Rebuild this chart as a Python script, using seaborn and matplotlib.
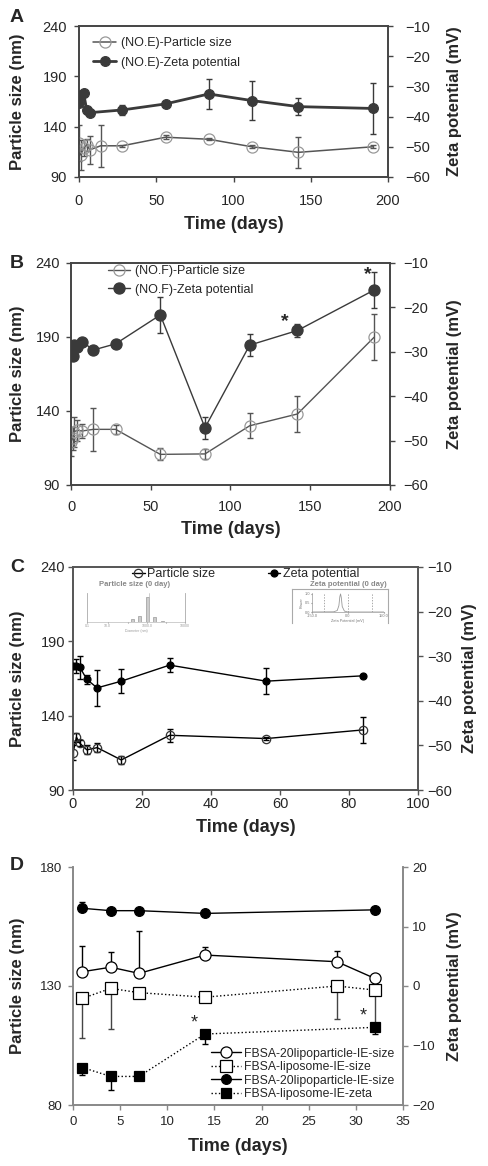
import numpy as np
import matplotlib
matplotlib.use("Agg")
import matplotlib.pyplot as plt
import seaborn as sns

# ---- panel A: (NO.E) ----
a_size_days = [0, 1, 3, 5, 7, 14, 28, 56, 84, 112, 142, 190]
a_size = [123.5, 112, 118.5, 122, 117, 121, 121, 129.5, 127.5, 120, 114.5, 120]
a_size_err = [18, 15, 8, 6, 13.6, 21, 1, 2, 1, 1.5, 15.5, 1.5]
a_zeta_days = [0, 1, 3, 5, 7, 28, 56, 84, 112, 142, 190]
a_zeta = [-35.6, -32.8, -32.3, -37.8, -38.7, -37.8, -35.8, -32.5, -34.7, -36.7, -37.3]
a_zeta_err = [0, 0, 0, 0, 0, 1.8, 0, 5, 6.4, 2.8, 8.5]

# ---- panel B: (NO.F) ----
b_days = [0, 1, 2, 4, 7, 14, 28, 56, 84, 112, 142, 190]
b_size = [119.3, 121.5, 126, 127, 126.5, 127.6, 127.6, 110.7, 111, 130, 138, 189.8]
b_size_err = [10, 8, 10, 7, 5, 14.6, 3, 4, 3.5, 8.4, 12, 15.6]
b_zeta = [-29.6, -30.9, -28.5, -29, -27.7, -29.6, -28.2, -21.7, -47.1, -28.5, -25.2, -16.1]
b_zeta_err = [0, 0, 0, 0, 0.6, 0, 0, 4, 2.5, 2.5, 1.5, 4]

# ---- panel C ----
c_days = [0, 1, 2, 4, 7, 14, 28, 56, 84]
c_size = [115.1, 125.5, 121.4, 117, 118.5, 110.2, 126.8, 124.6, 130.4]
c_size_err = [5, 3, 2, 3, 3, 3, 4.5, 1, 8.5]
c_zeta = [-32.2, -32.2, -32.5, -35.2, -37.1, -35.6, -32.0, -35.6, -34.4]
c_zeta_err = [0, 1.5, 2.6, 1, 4, 2.7, 1.5, 2.9, 0]

# inset data (0 day distributions)
inset_size_bins = [60, 80, 100, 120, 140]
inset_size_counts = [0.1, 0.25, 1.0, 0.2, 0.05]
inset_zeta_x = [-150, -60, -45, -38, -34, -31, -28, -24, -15, 0, 150]
inset_zeta_y = [0, 0.01, 0.08, 0.35, 0.85, 1.0, 0.8, 0.3, 0.05, 0.0, 0]

# ---- panel D ----
d_days = [1, 4, 7, 14, 28, 32]
d_lipo_size = [136, 137.9, 135.3, 143, 140.2, 133.2]
d_lipo_size_err = [10.8, 6.2, 17.8, 3.2, 4.6, 1.5]
d_lipos_size = [124.8, 129, 127.2, 125.3, 130, 128.3]
d_lipos_size_err = [16.5, 17, 1.5, 1, 14, 15.4]
d_zeta_days = [1, 4, 7, 14, 32]
d_lipo_zeta = [13.06, 12.66, 12.66, 12.2, 12.8]
d_lipo_zeta_err = [1.0, 0, 0, 0, 0]
d_lipos_zeta = [-13.7, -15.2, -15.2, -8.07, -6.95]
d_lipos_zeta_err = [1.3, 2.2, 0, 1.7, 1.1]

sns.set_style("ticks")
plt.rcParams['font.family'] = ['Liberation Sans', 'DejaVu Sans']

W, H = 489, 1166
fig = plt.figure(figsize=(W / 100, H / 100), dpi=100)


def box(l, r, t, b):
    return [l / W, 1 - b / H, (r - l) / W, (b - t) / H]


def series(ax, x, y, err, color, marker, ms, mfc, mec, lw, ls='-', ecolor=None,
           up_only=False, down_only=False, label=None):
    sns.lineplot(x=x, y=y, ax=ax, color=color, marker=marker, markersize=ms,
                 markerfacecolor=mfc, markeredgecolor=mec, markeredgewidth=0.9,
                 linewidth=lw, linestyle=ls, label=label, sort=False, zorder=3)
    e = np.array(err, dtype=float)
    z = np.zeros_like(e)
    yerr = [z, e] if up_only else ([e, z] if down_only else e)
    ax.errorbar(x, y, yerr=yerr, fmt='none', ecolor=ecolor or color,
                elinewidth=1, capsize=2.5, capthick=1, zorder=2)


def style_axes(ax, ax2, pos, xlim, ylim, y2lim, xt, yt, y2t, spine_col, tick_fs,
               pads, lab_px):
    l, r, t, b = pos
    ax.set_xlim(*xlim)
    ax.set_ylim(*ylim)
    ax2.set_ylim(*y2lim)
    ax.set_xticks(xt)
    ax.set_yticks(yt)
    ax2.set_yticks(y2t)
    for a in (ax, ax2):
        for s in a.spines.values():
            s.set_color(spine_col)
            s.set_linewidth(1.2)
        a.tick_params(direction='out', length=3.6, width=1, color=spine_col,
                      labelsize=tick_fs)
    ax.tick_params(axis='x', pad=pads[0])
    ax.tick_params(axis='y', pad=pads[1])
    ax2.tick_params(axis='y', pad=pads[2])
    ax.set_xlabel('Time (days)', fontsize=13, fontweight='bold')
    ax.set_ylabel('Particle size (nm)', fontsize=12, fontweight='bold')
    ax2.set_ylabel('Zeta potential (mV)', fontsize=12, fontweight='bold')
    # label positions given in figure pixels (centres)
    xl_y, yl_x, yr_x = lab_px
    ax.xaxis.set_label_coords(0.5, (b - (xl_y - 9)) / (b - t))
    ax.yaxis.set_label_coords((yl_x + 8 - l) / (r - l), 0.5)
    ax2.yaxis.set_label_coords((yr_x - 8 - l) / (r - l), 0.5)


def merged_legend(ax, ax2, **kw):
    h1, l1 = ax.get_legend_handles_labels()
    h2, l2 = ax2.get_legend_handles_labels()
    for a in (ax, ax2):
        if a.get_legend() is not None:
            a.get_legend().remove()
    ax2.legend(h1 + h2, l1 + l2, frameon=False, **kw)


# ================= A =================
posA = (79, 388, 26, 177)
axA = fig.add_axes(box(*posA))
axA2 = axA.twinx()
series(axA, a_size_days, a_size, a_size_err, '#555555', 'o', 8, 'none', '#999999', 1.1,
       ecolor='#555555', label='(NO.E)-Particle size')
series(axA2, a_zeta_days, a_zeta, a_zeta_err, '#3a3a3a', 'o', 7, '#3a3a3a', '#3a3a3a', 2.0,
       label='(NO.E)-Zeta potential')
style_axes(axA, axA2, posA, (0, 200), (90, 240), (-60, -10), range(0, 201, 50),
           [90, 140, 190, 240], range(-60, -9, 10), '#444444', 10.5,
           (8.6, 5.0, 8.6), (225, 17, 455))
merged_legend(axA, axA2, loc='upper left', bbox_to_anchor=(0.01, 1.0), fontsize=9,
              handlelength=1.8, handletextpad=0.4, labelspacing=0.6)

# ================= B =================
posB = (71, 390, 263, 485)
axB = fig.add_axes(box(*posB))
axB2 = axB.twinx()
series(axB, b_days, b_size, b_size_err, '#555555', 'o', 8, 'none', '#999999', 1.0,
       ecolor='#555555', label='(NO.F)-Particle size')
series(axB2, b_days, b_zeta, b_zeta_err, '#3a3a3a', 'o', 8, '#3a3a3a', '#3a3a3a', 1.0,
       label='(NO.F)-Zeta potential')
style_axes(axB, axB2, posB, (0, 200), (90, 240), (-60, -10), range(0, 201, 50),
           [90, 140, 190, 240], range(-60, -9, 10), '#444444', 10.5,
           (7.2, 4.3, 5.8), (530, 17, 455))
merged_legend(axB, axB2, loc='upper left', bbox_to_anchor=(0.08, 1.04), fontsize=9,
              handlelength=1.8, handletextpad=0.4, labelspacing=0.5)
axB2.text(134, -25.0, '*', fontsize=14, fontweight='bold', ha='center', va='bottom')
axB2.text(186, -14.5, '*', fontsize=14, fontweight='bold', ha='center', va='bottom')

# ================= C =================
posC = (73, 418, 567, 790)
axC = fig.add_axes(box(*posC))
axC2 = axC.twinx()
series(axC, c_days, c_size, c_size_err, 'black', 'o', 6, 'none', '#333333', 1.0,
       label='Particle size')
series(axC2, c_days, c_zeta, c_zeta_err, 'black', 'o', 5, 'black', 'black', 1.0,
       label='Zeta potential')
style_axes(axC, axC2, posC, (0, 100), (90, 240), (-60, -10), range(0, 101, 20),
           [90, 140, 190, 240], range(-60, -9, 10), '#555555', 10.5,
           (1.4, 2.2, 2.9), (828, 17, 470))
h1, l1 = axC.get_legend_handles_labels()
h2, l2 = axC2.get_legend_handles_labels()
for a in (axC, axC2):
    if a.get_legend() is not None:
        a.get_legend().remove()
axC2.legend(h1 + h2, l1 + l2, frameon=False, ncol=2, loc='upper center',
            bbox_to_anchor=(0.5, 1.045), fontsize=9, handlelength=1.0,
            handletextpad=0.2, columnspacing=4.2)

# insets of panel C
ins1 = fig.add_axes(box(87, 185, 593, 622))
ins1.bar(inset_size_bins, inset_size_counts, width=8, color='#cccccc', edgecolor='#999999',
         linewidth=0.5)
ins1.plot([104, 104], [0, 1.15], color='#bbbbbb', lw=0.5)
ins1.set_xlim(-60, 200)
ins1.set_ylim(0, 1.15)
ins1.set_xticks([-60, -5, 50, 100, 150, 200])
ins1.set_xticklabels(['0.1', '10.0', '', '1000.0', '', '10000'])
ins1.set_yticks([])
ins1.tick_params(labelsize=2.5, length=1, color='#999999', labelcolor='#999999', pad=0.5)
for k, s in ins1.spines.items():
    s.set_color('#aaaaaa')
    s.set_linewidth(0.6 if k in ('left', 'right') else 0.4)
ins1.spines['top'].set_visible(False)
ins1.set_xlabel('Diameter (nm)', fontsize=2.5, color='#999999', labelpad=0.5)
fig.text(135 / W, 1 - 585 / H, 'Particle size (0 day)', fontsize=5.5, fontweight='bold',
         color='#888888', ha='center', va='center')

ins2f = fig.add_axes(box(292, 388, 589, 623))
ins2f.set_xticks([])
ins2f.set_yticks([])
for s in ins2f.spines.values():
    s.set_color('#aaaaaa')
    s.set_linewidth(0.8)
ins2f.spines['bottom'].set_visible(False)
ins2 = fig.add_axes(box(312, 384, 593, 612))
ins2.plot(inset_zeta_x, inset_zeta_y, color='#999999', lw=0.6)
for v in (-100, 0, 100):
    ins2.axvline(v, color='#888888', lw=0.5, ls=(0, (2, 2)))
ins2.set_xlim(-150, 150)
ins2.set_ylim(0, 1.05)
ins2.set_xticks([-150, 0, 150])
ins2.set_xticklabels(['-150.0', '0.0', '150.0'])
ins2.set_yticks([0, 0.5, 1.0])
ins2.set_yticklabels(['0.0', '0.5', '1.0'])
ins2.tick_params(labelsize=2.8, length=1, pad=0.5, color='#888888', labelcolor='#777777')
ins2.spines['top'].set_visible(False)
ins2.spines['right'].set_visible(False)
for s in ins2.spines.values():
    s.set_color('#999999')
    s.set_linewidth(0.5)
ins2.set_ylabel('Power', fontsize=2.8, color='#777777', labelpad=0.5)
ins2.set_xlabel('Zeta Potential (mV)', fontsize=2.8, color='#777777', labelpad=0.5)
fig.text(348 / W, 1 - 585 / H, 'Zeta potential (0 day)', fontsize=5.5, fontweight='bold',
         color='#888888', ha='center', va='center')

# ================= D =================
posD = (73, 403, 867, 1105)
axD = fig.add_axes(box(*posD))
axD2 = axD.twinx()
series(axD, d_days, d_lipo_size, d_lipo_size_err, 'black', 'o', 8, 'white', 'black', 1.0,
       up_only=True, label='FBSA-20lipoparticle-IE-size')
series(axD, d_days, d_lipos_size, d_lipos_size_err, 'black', 's', 8, 'white', 'black', 1.0,
       ls=':', ecolor='#444444', down_only=True, label='FBSA-liposome-IE-size')
series(axD2, d_zeta_days, d_lipo_zeta, d_lipo_zeta_err, 'black', 'o', 7, 'black', 'black',
       1.0, up_only=True, label='FBSA-20lipoparticle-IE-size')
series(axD2, d_zeta_days, d_lipos_zeta, d_lipos_zeta_err, 'black', 's', 7, 'black', 'black',
       1.0, ls=':', down_only=True, label='FBSA-liposome-IE-zeta')
style_axes(axD, axD2, posD, (0, 35), (80, 180), (-20, 20), range(0, 36, 5),
           [80, 130, 180], [-20, -10, 0, 10, 20], '#888888', 9.5,
           (4.3, 4.3, 2.9), (1147, 17, 455))
for a in (axD, axD2):
    a.spines['top'].set_visible(False)
merged_legend(axD, axD2, loc='lower right', bbox_to_anchor=(1.0, -0.015), fontsize=8.8,
              handlelength=2.4, handletextpad=0.3, labelspacing=0.12, borderpad=0.2)
axD2.text(12.9, -7.6, '*', fontsize=13, ha='center', va='bottom')
axD2.text(30.8, -6.4, '*', fontsize=13, ha='center', va='bottom')

# panel letters
for letter, y in (('A', 17), ('B', 263), ('C', 567), ('D', 866)):
    fig.text(17 / W, 1 - y / H, letter, fontsize=14, fontweight='bold',
             ha='center', va='center')

fig.savefig('out.png', dpi=100)
